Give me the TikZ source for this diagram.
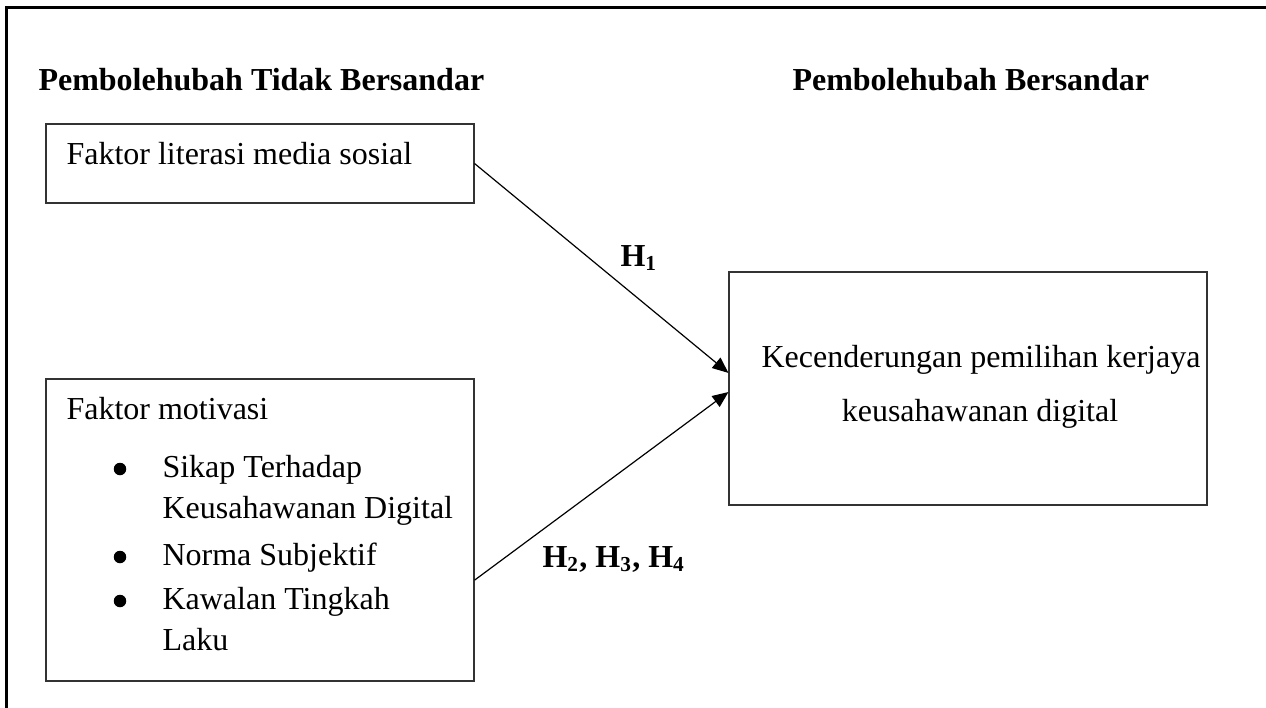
\documentclass[tikz,border=0pt]{standalone}
\usepackage{fontspec}
\setmainfont{Liberation Serif}
\usetikzlibrary{arrows.meta,calc}
\newcommand\pxu{0.375pt}
\tikzset{
  box/.style={draw=black!80, line width=0.4pt, rectangle, inner sep=0pt},
  txt/.style={inner sep=0pt, anchor=base west, font=\fontsize{12}{14}\selectfont},
  dot/.style={circle, fill=black, inner sep=0pt, minimum size=12.5*\pxu},
  head/.style={txt, font=\fontsize{12}{14}\selectfont\bfseries},
  hyp/.style={txt, font=\fontsize{12}{14}\selectfont\bfseries},
  link/.style={line width=0.45pt, -{Triangle[length=6pt, width=5pt]}},
  frame/.style={line width=1pt, line cap=rect}
}
\begin{document}
\begin{tikzpicture}[x=\pxu, y=-\pxu]
\useasboundingbox (0,0) rectangle (1266,708);
% outer frame (left and top)
\draw[frame] (6.5,712) -- (6.5,7.5) -- (1270,7.5);
% headings
\node[head] (h1) at (38,90) {Pembolehubah Tidak Bersandar};
\node[head] (h2) at (792,90) {Pembolehubah Bersandar};
% boxes
\node[box, minimum width=428*\pxu, minimum height=79*\pxu] (b1) at (260,163.5) {};
\node[box, minimum width=428*\pxu, minimum height=302*\pxu] (b2) at (260,530) {};
\node[box, minimum width=478*\pxu, minimum height=233*\pxu] (b3) at (968,388.5) {};
% box 1 text
\node[txt] (t1) at (66,164) {Faktor literasi media sosial};
% box 2 text
\node[txt] (t2) at (66,419) {Faktor motivasi};
\node[dot] (d1) at (120,469) {};
\node[txt] (s1) at (162,477) {Sikap Terhadap};
\node[txt] (s1b) at (162,518) {Keusahawanan Digital};
\node[dot] (d2) at (120,557) {};
\node[txt] (s2) at (162,565) {Norma Subjektif};
\node[dot] (d3) at (120,601) {};
\node[txt] (s3) at (162,609) {Kawalan Tingkah};
\node[txt] (s3b) at (162,650) {Laku};
% box 3 text
\node[txt, anchor=base] (t3) at (981,367) {Kecenderungan pemilihan kerjaya};
\node[txt, anchor=base] (t3b) at (980,421) {keusahawanan digital};
% connectors
\coordinate (a1s) at (b1.east);
\coordinate (a1e) at ($(b3.north west)!101/233!(b3.south west)$);
\coordinate (a2s) at ($(b2.north east)!201/302!(b2.south east)$);
\coordinate (a2e) at ($(b3.north west)!120/233!(b3.south west)$);
\draw[link] (a1s) -- (a1e);
\draw[link] (a2s) -- (a2e);
% hypothesis labels
\node[hyp] (l1) at (620,266) {H\textsubscript{1}};
\node[hyp] (l2) at (542,567) {H\textsubscript{2}, H\textsubscript{3}, H\textsubscript{4}};
\end{tikzpicture}
\end{document}
